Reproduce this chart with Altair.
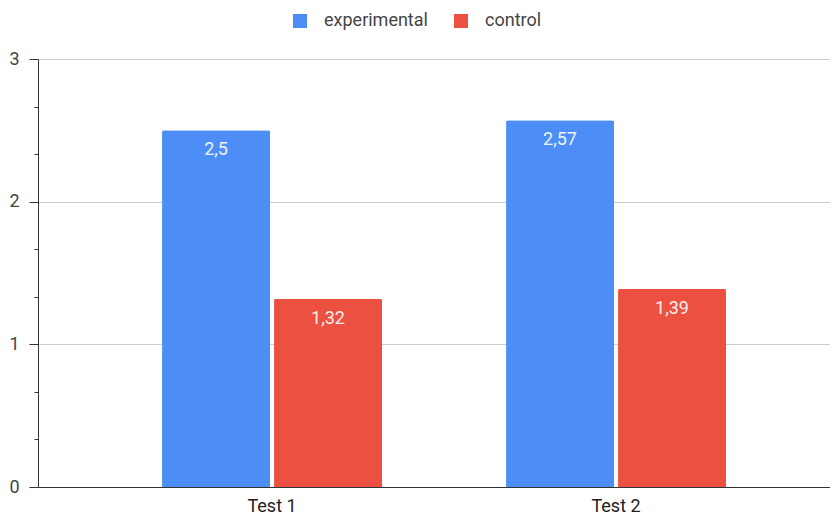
import altair as alt
import pandas as pd

tests = ["Test 1", "Test 1", "Test 2", "Test 2"]
groups = ["experimental", "control", "experimental", "control"]
values = [2.5, 1.32, 2.57, 1.39]
series_order = ["experimental", "control"]
series_colors = ["#4d8ef6", "#eb5040"]
y_ticks = [0, 1/3, 2/3, 1, 4/3, 5/3, 2, 7/3, 8/3, 3]

df = pd.DataFrame({"test": tests, "group": groups, "value": values})

FONT = "Roboto"
FS = 18

base = alt.Chart(df).encode(
    x=alt.X("test:N", title=None,
            scale=alt.Scale(paddingInner=0.3605, paddingOuter=0.3314, align=0.544),
            axis=alt.Axis(labelAngle=0, ticks=False, domain=True, domainColor="#333333",
                          labelFontSize=FS, labelColor="#222222", labelFont=FONT,
                          labelPadding=10, grid=False)),
    xOffset=alt.XOffset("group:N", sort=series_order,
                        scale=alt.Scale(paddingInner=0.0357, paddingOuter=0)),
    y=alt.Y("value:Q", title=None,
            scale=alt.Scale(domain=[0, 3], nice=False),
            axis=alt.Axis(values=y_ticks,
                          labelExpr="abs(datum.value - round(datum.value)) < 0.01 ? format(datum.value, 'd') : ''",
                          tickSize={"condition": {"test": "abs(datum.value - round(datum.value)) < 0.01", "value": 9}, "value": 4},
                          gridOpacity={"condition": {"test": "abs(datum.value - round(datum.value)) < 0.01 && datum.value > 0", "value": 1}, "value": 0},
                          gridColor="#cccccc", tickColor="#333333", domainColor="#333333",
                          labelFontSize=FS, labelColor="#444444", labelFont=FONT,
                          labelPadding=10)),
)

bars = base.mark_bar(cornerRadiusTopLeft=2, cornerRadiusTopRight=2).encode(
    color=alt.Color("group:N", sort=series_order, title=None,
                    scale=alt.Scale(domain=series_order, range=series_colors),
                    legend=alt.Legend(orient="none", direction="horizontal",
                                      legendX=253, legendY=-47,
                                      symbolType="square", symbolSize=196,
                                      symbolStrokeWidth=0, symbolOpacity=1,
                                      labelFontSize=FS, labelFont=FONT, labelColor="#444444",
                                      columnPadding=24, labelOffset=15)),
)

labels = base.mark_text(baseline="top", dy=11, color="#ffffff", fontSize=FS, font=FONT, opacity=0.9).transform_calculate(
    label="replace(toString(datum.value), '.', ',')"
).encode(text="label:N")

chart = alt.layer(bars, labels).properties(
    width=792, height=428,
    padding={"left": 0, "top": 4, "right": 0, "bottom": 0},
).configure_view(stroke=None).configure_axis(gridWidth=1)

chart.save("out.html", embed_options={"renderer": "svg", "actions": False})
